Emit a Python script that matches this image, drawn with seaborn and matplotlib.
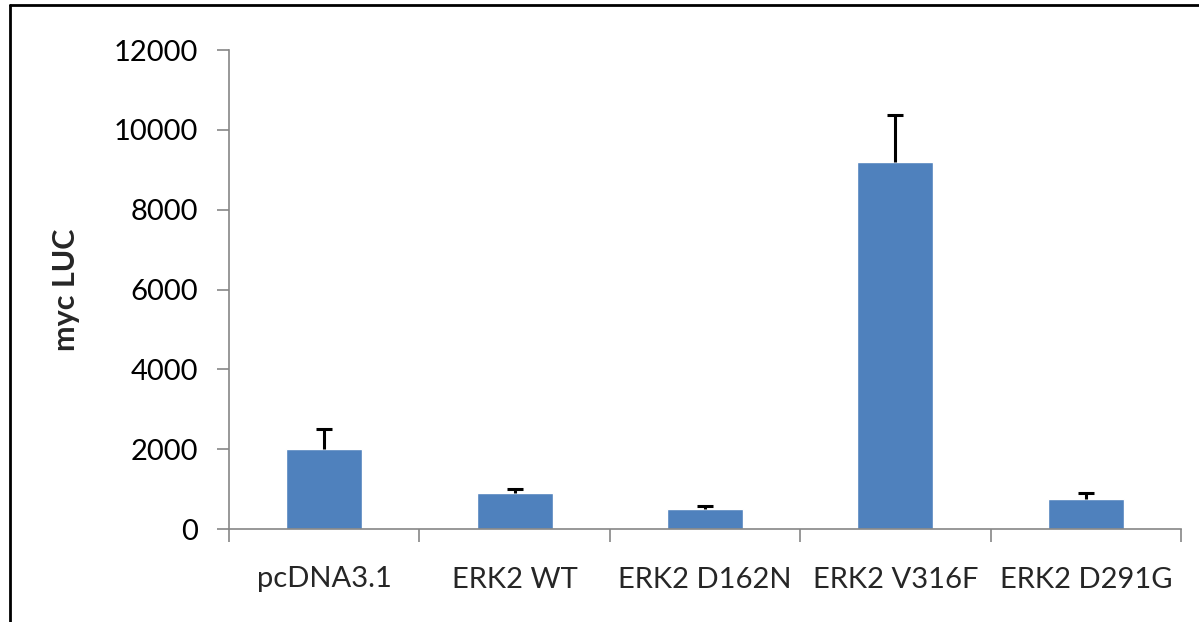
import matplotlib
matplotlib.use("Agg")
import matplotlib.pyplot as plt
import seaborn as sns
import pandas as pd
from matplotlib.lines import Line2D

constructs = ["pcDNA3.1", "ERK2 WT", "ERK2 D162N", "ERK2 V316F", "ERK2 D291G"]
myc_luc = [2000, 900, 500, 9200, 750]
err_up = [500, 100, 70, 1180, 150]
y_ticks = [0, 2000, 4000, 6000, 8000, 10000, 12000]

df = pd.DataFrame({"construct": constructs, "value": myc_luc})

sns.set_style("white")
plt.rcParams["font.family"] = ["Lato", "DejaVu Sans"]

fig = plt.figure(figsize=(11.99, 6.22), dpi=100)
ax = fig.add_axes([229 / 1199, 1 - 529 / 622, (1181 - 229) / 1199, (529 - 50) / 622])

sns.barplot(data=df, x="construct", y="value", color="#4F81BD", width=0.4,
            saturation=1, errorbar=None, ax=ax)
eb = ax.errorbar(range(len(constructs)), myc_luc, yerr=[[0] * len(err_up), err_up],
                 fmt="none", ecolor="black", elinewidth=2.2, capsize=5.5, capthick=2.2)
# only the upper cap, like the original
eb[1][0].set_visible(False)

ax.set_xlim(-0.5, len(constructs) - 0.5)
ax.set_ylim(0, 12000)
ax.set_yticks(y_ticks)
ax.set_yticklabels([str(t) for t in y_ticks], fontsize=21)

for s in ["top", "right"]:
    ax.spines[s].set_visible(False)
for s in ["left", "bottom"]:
    ax.spines[s].set_color("#868686")
    ax.spines[s].set_linewidth(1.2)

ax.tick_params(axis="y", direction="out", length=8.5, width=1.2, color="#868686",
               pad=14, left=True, labelcolor="black")
ax.set_xticks(range(len(constructs)))
ax.set_xticklabels(constructs, fontsize=21)
ax.tick_params(axis="x", which="major", length=0, pad=27)
ax.set_xticks([i - 0.5 for i in range(len(constructs) + 1)], minor=True)
ax.tick_params(axis="x", which="minor", direction="out", length=9, width=1.2,
               color="#868686", bottom=True)

ax.set_xlabel("")
ax.set_ylabel("myc LUC", fontsize=22, fontweight="bold")
ax.yaxis.set_label_coords((80 - 229) / 952, 0.5)

# outer chart frame
fig.add_artist(Line2D([9.5 / 1199, 9.5 / 1199], [0, 1 - 5 / 622], transform=fig.transFigure,
                      color="black", lw=2))
fig.add_artist(Line2D([9.5 / 1199, 1], [1 - 5 / 622, 1 - 5 / 622], transform=fig.transFigure,
                      color="black", lw=2))

fig.savefig("out.png", dpi=100)
